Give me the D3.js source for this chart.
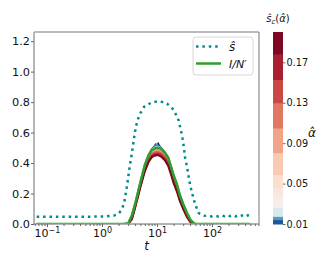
<!DOCTYPE html>
<html>
<head>
<meta charset="utf-8">
<script src="https://cdn.jsdelivr.net/npm/d3@7"></script>
<style>
body { margin: 0; background: #fff; }
svg text { font-family: "DejaVu Sans", sans-serif; fill: #111; }
</style>
</head>
<body>
<div id="chart"></div>
<script>
// s-hat, the dotted teal curve
const sT = [0.065, 0.1, 0.15, 0.25, 0.4, 0.6, 0.9, 1.2, 1.65, 1.8, 2.06, 2.31, 2.54, 2.85, 3.14, 3.51, 3.87, 4.14, 4.76, 5.87, 7.78, 10.3, 12.8, 15.2, 20.1, 24.8, 26.5, 28.5, 30.6, 32.6, 35, 37.7, 40.3, 45.2, 49.6, 57.5, 71, 85, 100, 115, 130, 150, 170, 190, 215, 240, 270, 300, 330, 370, 410, 450, 480];
const sV = [0.048, 0.048, 0.048, 0.048, 0.048, 0.048, 0.049, 0.05, 0.055, 0.06, 0.072, 0.1, 0.14, 0.25, 0.36, 0.47, 0.575, 0.64, 0.715, 0.77, 0.795, 0.805, 0.80, 0.79, 0.75, 0.68, 0.63, 0.585, 0.51, 0.43, 0.38, 0.31, 0.25, 0.18, 0.127, 0.072, 0.055, 0.052, 0.05, 0.054, 0.05, 0.056, 0.051, 0.058, 0.052, 0.057, 0.05, 0.056, 0.052, 0.059, 0.051, 0.057, 0.054];

// I/N' and the alpha-hat curves share one time grid
const curveT = [0.065, 2.5, 3, 3.5, 4, 4.5, 5, 6, 7, 8, 9, 9.5, 10, 10.5, 11, 12, 14, 16, 18, 20, 23, 26, 30, 35, 40, 45, 50, 480];
const infected = [0, 0, .003, .055, .13, .205, .274, .385, .45, .485, .495, .498, .50, .499, .498, .492, .467, .435, .375, .32, .26, .19, .13, .072, .03, .01, 0, 0];

const alphas = [0.01, 0.015, 0.02, 0.04, 0.07, 0.10, 0.13, 0.16, 0.19];
const alphaCurves = [
  [0, 0, .003, .055, .13, .205, .274, .385, .45, .488, .51, .522, .514, .526, .512, .497, .467, .435, .375, .32, .26, .19, .13, .072, .03, .01, 0, 0],
  [0, 0, .003, .055, .13, .205, .274, .385, .45, .487, .505, .516, .521, .51, .507, .495, .467, .435, .375, .32, .26, .19, .13, .072, .03, .01, 0, 0],
  [0, 0, .003, .055, .13, .205, .274, .385, .45, .486, .499, .503, .506, .504, .502, .494, .467, .435, .375, .32, .26, .19, .13, .072, .03, .01, 0, 0],
  [0, 0, .002, .053, .128, .203, .272, .383, .447, .482, .493, .496, .498, .497, .496, .49, .465, .432, .372, .317, .257, .187, .127, .07, .028, .009, 0, 0],
  [0, 0, .002, .049, .125, .199, .268, .377, .441, .476, .487, .49, .492, .491, .49, .483, .459, .425, .366, .311, .251, .182, .123, .066, .026, .007, 0, 0],
  [0, 0, .002, .044, .121, .194, .263, .370, .433, .467, .478, .482, .484, .483, .481, .474, .450, .415, .357, .302, .242, .175, .117, .061, .023, .005, 0, 0],
  [0, 0, .001, .039, .116, .188, .256, .361, .424, .457, .468, .471, .473, .472, .47, .463, .44, .404, .347, .292, .233, .168, .111, .056, .02, .004, 0, 0],
  [0, 0, .001, .035, .112, .183, .25, .353, .415, .447, .458, .46, .462, .461, .459, .452, .428, .392, .336, .281, .223, .16, .104, .051, .017, .003, 0, 0],
  [0, 0, .001, .031, .107, .177, .243, .344, .405, .437, .448, .45, .452, .451, .449, .441, .417, .381, .325, .27, .213, .152, .097, .046, .014, .002, 0, 0]
];

const yTicks = [0, 0.2, 0.4, 0.6, 0.8, 1.0, 1.2];
const xTicks = [0.1, 1, 10, 100];
const xTickExp = ['\u22121', '0', '1', '2'];
const cbTicks = [0.01, 0.05, 0.09, 0.13, 0.17];
const cbBounds = [0.01, 0.0143, 0.0176, 0.026, 0.0325, 0.0375, 0.0458, 0.059, 0.0805, 0.105, 0.130, 0.153, 0.178, 0.2];

const width = 332, height = 266;
const plot = { left: 34, right: 259, top: 32, bottom: 224 };

const svg = d3.select('#chart').append('svg')
  .attr('width', width)
  .attr('height', height);

const x = d3.scaleLog().domain([Math.pow(10, -1.236), Math.pow(10, 2.855)]).range([plot.left, plot.right]);
const y = d3.scaleLinear().domain([0, 1.26]).range([plot.bottom, plot.top]);

// RdBu_r with the white point pulled down near the low end
const alphaCenter = 0.024;
function alphaColor(a) {
  let n;
  if (a < alphaCenter) n = 0.5 * (a - 0.01) / (alphaCenter - 0.01);
  else n = 0.5 + 0.5 * (a - alphaCenter) / (0.2 - alphaCenter);
  return d3.interpolateRdBu(1 - Math.max(0, Math.min(1, n)));
}

svg.append('clipPath').attr('id', 'plotClip')
  .append('rect')
  .attr('x', plot.left).attr('y', plot.top)
  .attr('width', plot.right - plot.left).attr('height', plot.bottom - plot.top);

const g = svg.append('g').attr('clip-path', 'url(#plotClip)');
const line = d3.line().x(d => x(d[0])).y(d => y(d[1]));

// alpha-hat curves, low to high
alphaCurves.forEach((vals, i) => {
  g.append('path')
    .attr('d', line(curveT.map((t, j) => [t, vals[j]])))
    .attr('fill', 'none')
    .attr('stroke', alphaColor(alphas[i]))
    .attr('stroke-width', 2);
});

// I/N'
g.append('path')
  .attr('d', line(curveT.map((t, j) => [t, infected[j]])))
  .attr('fill', 'none')
  .attr('stroke', '#2ca02c')
  .attr('stroke-width', 2.5);

// s-hat
g.append('path')
  .attr('d', line(sT.map((t, j) => [t, sV[j]])))
  .attr('fill', 'none')
  .attr('stroke', '#008b8b')
  .attr('stroke-width', 2.5)
  .attr('stroke-dasharray', '2.5,3.9');

// spines
svg.append('line').attr('x1', plot.left).attr('x2', plot.right).attr('y1', plot.top).attr('y2', plot.top)
  .attr('stroke', '#777').attr('stroke-width', 1);
svg.append('line').attr('x1', plot.right).attr('x2', plot.right).attr('y1', plot.top).attr('y2', plot.bottom)
  .attr('stroke', '#777').attr('stroke-width', 1);
svg.append('line').attr('x1', plot.left).attr('x2', plot.left).attr('y1', plot.top).attr('y2', plot.bottom)
  .attr('stroke', '#b5b5b5').attr('stroke-width', 2);
svg.append('line').attr('x1', plot.left - 1).attr('x2', plot.right).attr('y1', plot.bottom).attr('y2', plot.bottom)
  .attr('stroke', '#999').attr('stroke-width', 1.5);

// x axis
const minor = x.ticks().filter(v => xTicks.indexOf(v) < 0 && v > x.domain()[0] && v < x.domain()[1]);
const xMinor = svg.append('g').attr('transform', `translate(0,${plot.bottom})`)
  .call(d3.axisBottom(x).tickValues(minor).tickSize(2).tickFormat(''));
xMinor.select('.domain').remove();
xMinor.selectAll('line').attr('stroke', '#666');

const xAxis = svg.append('g').attr('transform', `translate(0,${plot.bottom})`)
  .call(d3.axisBottom(x).tickValues(xTicks).tickSize(3).tickPadding(2).tickFormat(''));
xAxis.select('.domain').remove();
xAxis.selectAll('line').attr('stroke', '#666');
xAxis.selectAll('.tick').each(function (d, i) {
  const t = d3.select(this).append('text')
    .attr('y', 13).attr('text-anchor', 'middle')
    .style('font-size', '11px');
  t.append('tspan').text('10');
  t.append('tspan').attr('dy', -4.5).style('font-size', '8px').text(xTickExp[i]);
});

// y axis
const yAxis = svg.append('g').attr('transform', `translate(${plot.left},0)`)
  .call(d3.axisLeft(y).tickValues(yTicks).tickSize(3).tickPadding(1).tickFormat(d3.format('.1f')));
yAxis.select('.domain').remove();
yAxis.selectAll('line').attr('stroke', '#666');
yAxis.selectAll('text').style('font-size', '11.3px').attr('fill', '#111');

svg.append('text')
  .attr('x', (plot.left + plot.right) / 2).attr('y', 250)
  .attr('text-anchor', 'middle')
  .style('font-size', '12px').style('font-style', 'italic')
  .text('t');

// legend
const legend = svg.append('g');
legend.append('rect')
  .attr('x', 193).attr('y', 37).attr('width', 60).attr('height', 38).attr('rx', 3)
  .attr('fill', '#fff').attr('fill-opacity', 0.8)
  .attr('stroke', '#d6d6d6').attr('stroke-width', 1);
legend.append('line')
  .attr('x1', 196).attr('x2', 221).attr('y1', 46.5).attr('y2', 46.5)
  .attr('stroke', '#008b8b').attr('stroke-width', 2.5).attr('stroke-dasharray', '2.5,3.9');
legend.append('line')
  .attr('x1', 196).attr('x2', 221).attr('y1', 63.5).attr('y2', 63.5)
  .attr('stroke', '#2ca02c').attr('stroke-width', 2.5);
legend.append('text')
  .attr('x', 229).attr('y', 51)
  .style('font-size', '12px').style('font-style', 'italic')
  .text('\u015D');
legend.append('text')
  .attr('x', 229).attr('y', 68)
  .style('font-size', '11px').style('font-style', 'italic')
  .text('I/N\u2032');

// colorbar
const cb = { left: 273, right: 283, top: 32, bottom: 224 };
const cy = d3.scaleLinear().domain([0.01, 0.2]).range([cb.bottom, cb.top]);
const cbg = svg.append('g');
cbg.selectAll('rect')
  .data(d3.pairs(cbBounds))
  .enter()
  .append('rect')
  .attr('x', cb.left)
  .attr('width', cb.right - cb.left)
  .attr('y', d => cy(d[1]))
  .attr('height', d => cy(d[0]) - cy(d[1]) + 0.5)
  .attr('fill', d => alphaColor((d[0] + d[1]) / 2));

const cbAxis = svg.append('g').attr('transform', `translate(${cb.right},0)`)
  .call(d3.axisRight(cy).tickValues(cbTicks).tickSize(2.5).tickPadding(1).tickFormat(d3.format('.2f')));
cbAxis.select('.domain').remove();
cbAxis.selectAll('line').attr('stroke', '#666');
cbAxis.selectAll('text').style('font-size', '9.7px').attr('fill', '#111');

const cbTitle = svg.append('text')
  .attr('x', 278).attr('y', 22)
  .attr('text-anchor', 'middle')
  .style('font-size', '10px');
cbTitle.append('tspan').style('font-style', 'italic').text('\u015D');
cbTitle.append('tspan').attr('dy', 2).style('font-size', '7px').style('font-style', 'italic').text('c');
cbTitle.append('tspan').attr('dy', -2).text('(');
cbTitle.append('tspan').style('font-style', 'italic').text('\u03B1\u0302');
cbTitle.append('tspan').text(')');

svg.append('text')
  .attr('x', 308).attr('y', 137)
  .style('font-size', '12px').style('font-style', 'italic')
  .text('\u03B1\u0302');
</script>
</body>
</html>
